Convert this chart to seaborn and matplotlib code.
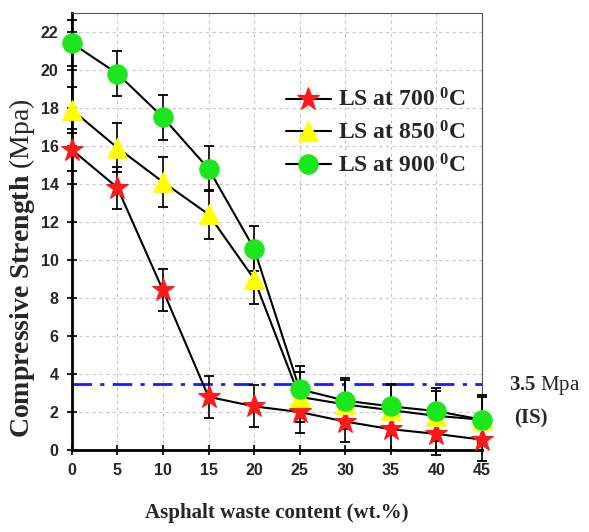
import numpy as np
import pandas as pd
import matplotlib
matplotlib.use("Agg")
import matplotlib.pyplot as plt
import seaborn as sns

waste = [0, 5, 10, 15, 20, 25, 30, 35, 40, 45]
ls700 = [15.8, 13.8, 8.4, 2.8, 2.3, 2.0, 1.5, 1.1, 0.85, 0.55]
ls850 = [17.9, 15.9, 14.1, 12.4, 9.0, 2.8, 2.4, 2.1, 1.8, 1.6]
ls900 = [21.4, 19.8, 17.5, 14.8, 10.6, 3.2, 2.6, 2.3, 2.05, 1.6]
err700 = [1.1, 1.1, 1.1, 1.1, 1.1, 1.1, 1.1, 1.1, 1.1, 1.1]
err850 = [1.2, 1.3, 1.3, 1.3, 1.3, 1.3, 1.3, 1.3, 1.3, 1.3]
err900 = [1.2, 1.2, 1.2, 1.2, 1.2, 1.2, 1.2, 1.2, 1.2, 1.2]
labels = ["LS at 700 $^{\\mathbf{0}}$C", "LS at 850 $^{\\mathbf{0}}$C", "LS at 900 $^{\\mathbf{0}}$C"]
is_limit = 3.5

sns.set_style("white")
plt.rcParams['mathtext.fontset'] = 'custom'
plt.rcParams['mathtext.rm'] = 'Liberation Serif'
plt.rcParams['mathtext.it'] = 'Liberation Serif:italic'
plt.rcParams['mathtext.bf'] = 'Liberation Serif:bold'

fig = plt.figure(figsize=(5.89, 5.32), dpi=100)
ax = fig.add_axes([0.122, 0.154, 0.696, 0.822])

rows = []
for lab, vals, errs in zip(labels, [ls700, ls850, ls900], [err700, err850, err900]):
    for w, v, e in zip(waste, vals, errs):
        rows.append({"waste": w, "strength": v, "err": e, "series": lab})
df = pd.DataFrame(rows)

colors = {labels[0]: "#ff1a1a", labels[1]: "#ffff00", labels[2]: "#1ee61e"}
markers = {labels[0]: "*", labels[1]: "^", labels[2]: "o"}
sizes = {labels[0]: 17, labels[1]: 14, labels[2]: 14}

ax.axhline(is_limit, color="#1a1aff", lw=2, ls=(0, (7, 3, 1.5, 3)), zorder=2)

for lab in labels:
    sub = df[df.series == lab]
    ax.errorbar(sub.waste, sub.strength, yerr=sub.err, fmt="none", ecolor="black",
                elinewidth=1.2, capsize=3.5, capthick=1.3, zorder=3, clip_on=False)

for lab in labels:
    sub = df[df.series == lab]
    sns.lineplot(data=sub, x="waste", y="strength", ax=ax, color="black", lw=1.5,
                 marker=markers[lab], markersize=sizes[lab], markerfacecolor=colors[lab],
                 markeredgecolor=colors[lab], label=lab, zorder=4, clip_on=False)

ax.set_xlim(0, 45)
ax.set_ylim(0, 23)
ax.set_xticks(waste)
ax.set_yticks(np.arange(0, 23, 2))
ax.grid(True, ls=(0, (3, 3)), color="#c8c8c8", lw=0.8)
for s in ["left", "bottom"]:
    ax.spines[s].set_color("black")
    ax.spines[s].set_linewidth(2)
for s in ["top", "right"]:
    ax.spines[s].set_color("#555555")
    ax.spines[s].set_linewidth(0.8)
ax.tick_params(axis="both", direction="inout", length=7, width=1.5, labelsize=11.5, pad=6)
ax.tick_params(axis="both", which="both", left=True, bottom=True)
for t in ax.get_xticklabels() + ax.get_yticklabels():
    t.set_fontfamily("Liberation Sans")
    t.set_fontweight("bold")

ax.set_xlabel("Asphalt waste content (wt.%)", fontfamily="Liberation Serif",
              fontweight="bold", fontsize=15, labelpad=18)
ax.set_ylabel("")
fig.text(0.038, 0.495, r"$\mathbf{Compressive\ Strength}$ (Mpa)", rotation=90,
         fontfamily="Liberation Serif", fontsize=20, ha="center", va="center")

fig.text(0.865, 0.276, r"$\mathbf{3.5}$ Mpa", fontfamily="Liberation Serif", fontsize=15,
         ha="left", va="center")
fig.text(0.873, 0.213, "(IS)", fontfamily="Liberation Serif", fontsize=15,
         fontweight="bold", ha="left", va="center")

leg = ax.legend(loc="upper left", bbox_to_anchor=(0.47, 0.875), frameon=False,
                prop={"family": "Liberation Serif", "weight": "bold", "size": 17},
                handlelength=1.9, handletextpad=0.3, labelspacing=0.4)

fig.savefig("out.png", dpi=100)
